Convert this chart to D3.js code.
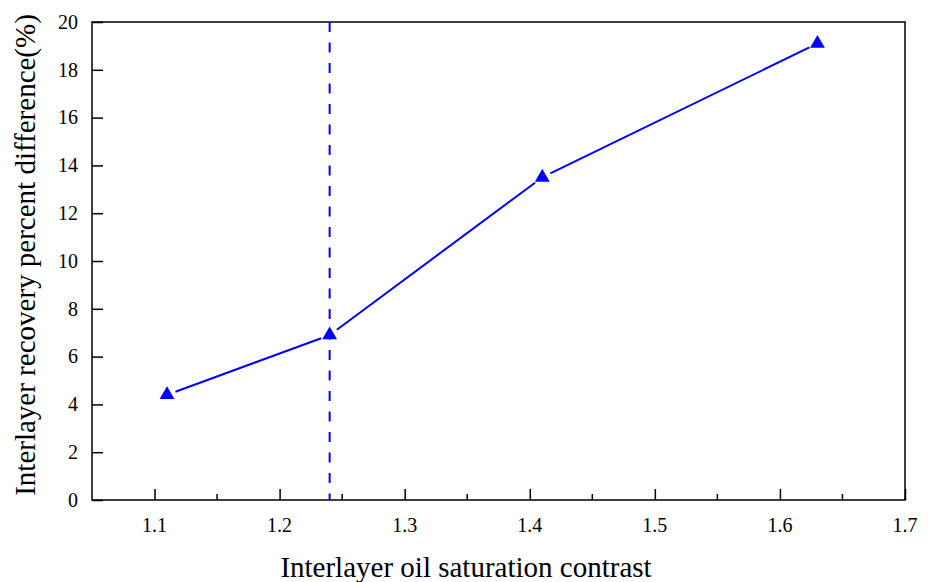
<!DOCTYPE html>
<html>
<head>
<meta charset="utf-8">
<script src="https://cdn.jsdelivr.net/npm/d3@7"></script>
<style>
  body { margin: 0; background: #fff; }
  svg text { font-family: "Liberation Serif", "Times New Roman", serif; fill: #000; }
</style>
</head>
<body>
<svg id="chart" width="930" height="582"></svg>
<script>
// data
const contrast = [1.11, 1.24, 1.41, 1.63]
const recoveryDiff = [4.4, 6.9, 13.5, 19.1]
const markerX = 1.24
const xTicks = [1.1, 1.2, 1.3, 1.4, 1.5, 1.6, 1.7]
const xMinor = [1.15, 1.25, 1.35, 1.45, 1.55, 1.65]
const yTicks = [0, 2, 4, 6, 8, 10, 12, 14, 16, 18, 20]

const svg = d3.select('#chart')
const plotLeft = 92, plotRight = 905, plotTop = 22, plotBottom = 500
const blue = '#0000ff'

const x = d3.scaleLinear().domain([1.05, 1.7]).range([plotLeft, plotRight])
const y = d3.scaleLinear().domain([0, 20]).range([plotBottom, plotTop])

const points = contrast.map((c, i) => ({x: c, y: recoveryDiff[i]}))

// frame
svg.append('rect')
  .attr('x', plotLeft).attr('y', plotTop)
  .attr('width', plotRight - plotLeft).attr('height', plotBottom - plotTop)
  .attr('fill', 'none').attr('stroke', '#000').attr('stroke-width', 1.5)

// x axis, ticks pointing inward (labels drawn separately below)
const gx = svg.append('g').attr('transform', 'translate(0,' + plotBottom + ')')
gx.call(d3.axisBottom(x).tickValues(xTicks).tickSizeInner(-11).tickSizeOuter(0).tickFormat(''))
gx.select('.domain').remove()
gx.selectAll('.tick line').attr('stroke', '#000').attr('stroke-width', 1.5)
gx.selectAll('.minor').data(xMinor).join('line')
  .attr('class', 'minor')
  .attr('x1', d => x(d)).attr('x2', d => x(d))
  .attr('y1', 0).attr('y2', -6)
  .attr('stroke', '#000').attr('stroke-width', 1.5)

// y axis
const gy = svg.append('g').attr('transform', 'translate(' + plotLeft + ',0)')
gy.call(d3.axisLeft(y).tickValues(yTicks).tickSizeInner(-11).tickSizeOuter(0).tickFormat(''))
gy.select('.domain').remove()
gy.selectAll('.tick line').attr('stroke', '#000').attr('stroke-width', 1.5)

// tick labels
svg.append('g').selectAll('text').data(xTicks).join('text')
  .attr('x', d => x(d)).attr('y', 532)
  .attr('text-anchor', 'middle').style('font-size', '20px')
  .text(d => d3.format('.1f')(d))

svg.append('g').selectAll('text').data(yTicks).join('text')
  .attr('x', 78).attr('y', d => y(d)).attr('dy', '0.34em')
  .attr('text-anchor', 'end').style('font-size', '20px')
  .text(d => d)

// dashed reference line
svg.append('line')
  .attr('x1', x(markerX)).attr('x2', x(markerX))
  .attr('y1', y(20)).attr('y2', y(0))
  .attr('stroke', blue).attr('stroke-width', 2)
  .attr('stroke-dasharray', '10,10.5')

// line segments with small gaps at the markers
const gap = 9
for (let i = 0; i < points.length - 1; i++) {
  const x1 = x(points[i].x), y1 = y(points[i].y)
  const x2 = x(points[i + 1].x), y2 = y(points[i + 1].y)
  const len = Math.hypot(x2 - x1, y2 - y1)
  const ux = (x2 - x1) / len, uy = (y2 - y1) / len
  svg.append('line')
    .attr('x1', x1 + ux * gap).attr('y1', y1 + uy * gap)
    .attr('x2', x2 - ux * gap).attr('y2', y2 - uy * gap)
    .attr('stroke', blue).attr('stroke-width', 2)
}

// triangle markers
svg.selectAll('.pt').data(points).join('path')
  .attr('class', 'pt')
  .attr('transform', d => 'translate(' + x(d.x) + ',' + y(d.y) + ')')
  .attr('d', d3.symbol().type(d3.symbolTriangle).size(95))
  .attr('fill', blue)

// axis titles
svg.append('text')
  .attr('x', 466).attr('y', 577)
  .attr('text-anchor', 'middle').style('font-size', '29px')
  .text('Interlayer oil saturation contrast')

svg.append('text')
  .attr('transform', 'translate(35,255) rotate(-90)')
  .attr('text-anchor', 'middle').style('font-size', '29px')
  .text('Interlayer recovery percent difference(%)')
</script>
</body>
</html>
